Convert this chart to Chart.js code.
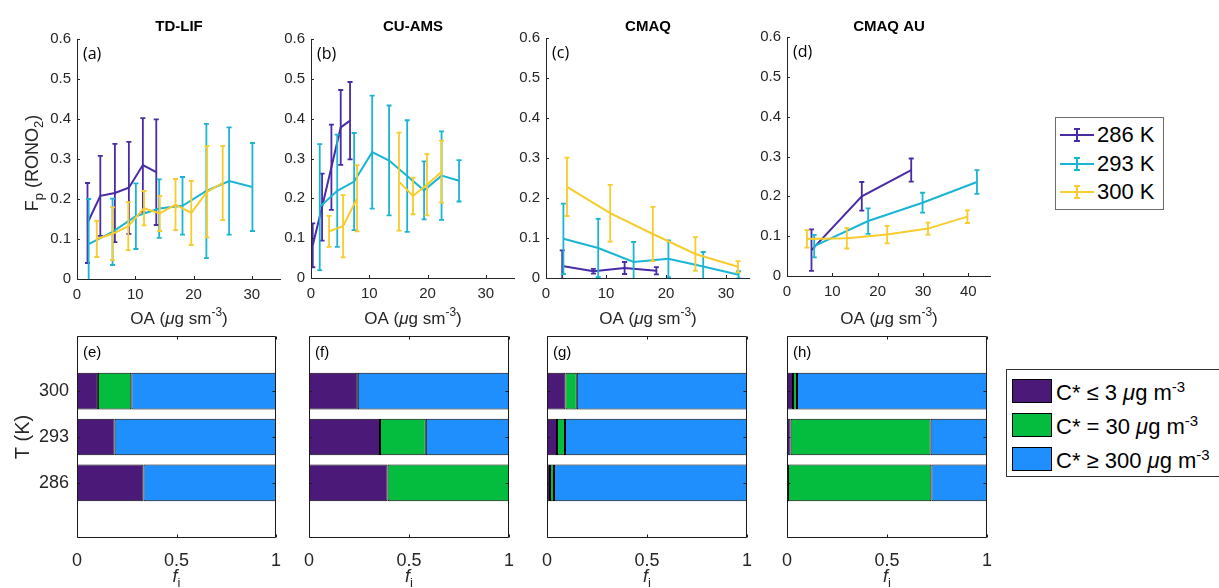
<!DOCTYPE html>
<html>
<head>
<meta charset="utf-8">
<script src="https://cdn.jsdelivr.net/npm/chart.js@4.4.0/dist/chart.umd.min.js"></script>
<style>
  body { margin: 0; background: #fff; width: 1219px; height: 588px; overflow: hidden; position: relative;
         font-family: "Liberation Sans", Arial, sans-serif; color: #000; }
  canvas { position: absolute; }
  .box { position: absolute; background: #fff; }
  .row { position: absolute; white-space: nowrap; line-height: 1; }
  .row sup { font-size: 0.68em; vertical-align: 0.55em; }
  .sw { position: absolute; box-sizing: border-box; border: 1px solid #000; }
</style>
</head>
<body>
<canvas id="top0"></canvas><canvas id="top1"></canvas><canvas id="top2"></canvas><canvas id="top3"></canvas>
<canvas id="bot0"></canvas><canvas id="bot1"></canvas><canvas id="bot2"></canvas><canvas id="bot3"></canvas>
<div id="legTemp" class="box"></div>
<div id="legClass" class="box"></div>
<script>
// ---- data ----
const panelTitles = ['TD-LIF', 'CU-AMS', 'CMAQ', 'CMAQ AU'];
const topLetters = ['(a)', '(b)', '(c)', '(d)'];
const botLetters = ['(e)', '(f)', '(g)', '(h)'];
const tempLabels = ['286 K', '293 K', '300 K'];
const fpTicks = [0, 0.1, 0.2, 0.3, 0.4, 0.5, 0.6];
const oaTicks = [[0, 10, 20, 30], [0, 10, 20, 30], [0, 10, 20, 30], [0, 10, 20, 30, 40]];
const oaMax = [35, 35, 34, 45];

// [OA, Fp, error half-width]; null Fp = gap in line
const tdlif286 = [[1.8, 0.14, 0.10], [4.0, 0.208, 0.10], [6.5, 0.215, 0.123], [8.9, 0.228, 0.115], [11.3, 0.285, 0.117], [13.6, 0.267, 0.132]];
const tdlif293 = [[2.0, 0.087, 0.113], [6.1, 0.118, 0.083], [10.1, 0.157, 0.082], [14.1, 0.176, 0.073], [18.1, 0.183, 0.072], [22.2, 0.22, 0.168], [26.1, 0.245, 0.134], [30.1, 0.23, 0.11]];
const tdlif300 = [[3.4, 0.10, 0.045], [6.1, 0.113, 0.066], [8.8, 0.132, 0.06], [11.5, 0.177, 0.043], [14.2, 0.164, 0.044], [16.9, 0.186, 0.064], [19.6, 0.165, 0.08], [22.3, 0.218, 0.114], [25.0, 0.24, 0.093]];
const cuams286 = [[0.3, 0.082, 0.055], [1.9, 0.178, 0.084], [3.5, 0.278, 0.107], [5.1, 0.378, 0.094], [6.7, 0.395, 0.097]];
const cuams293 = [[1.5, 0.178, 0.158], [4.5, 0.219, 0.141], [7.4, 0.242, 0.122], [10.5, 0.316, 0.142], [13.4, 0.295, 0.138], [16.5, 0.256, 0.14], [19.4, 0.22, 0.073], [22.4, 0.257, 0.111], [25.4, 0.244, 0.052]];
const cuams300 = [[3.1, 0.117, 0.039], [5.5, 0.13, 0.078], [7.9, 0.20, 0.083], [11.5, null, 0], [15.1, 0.242, 0.123], [17.5, 0.206, 0.046], [19.9, 0.234, 0.077], [22.4, 0.267, 0.078]];
const cmaq286 = [[2.7, 0.03, 0.039], [7.9, 0.017, 0.006], [13.1, 0.025, 0.015], [18.4, 0.018, 0.009]];
const cmaq293 = [[2.9, 0.098, 0.088], [8.7, 0.075, 0.073], [14.6, 0.04, 0.05], [20.4, 0.048, 0.046], [26.2, 0.029, 0.036], [32.1, 0.008, 0.009]];
const cmaq300 = [[3.5, 0.228, 0.073], [10.7, 0.162, 0.071], [17.8, 0.11, 0.068], [24.9, 0.06, 0.042], [32.0, 0.028, 0.014]];
const cmaqau286 = [[5.4, 0.065, 0.052], [16.5, 0.2, 0.036], [27.4, 0.266, 0.029]];
const cmaqau293 = [[6.0, 0.075, 0.028], [17.9, 0.138, 0.032], [29.9, 0.184, 0.025], [41.9, 0.236, 0.03]];
const cmaqau300 = [[4.4, 0.093, 0.022], [13.2, 0.095, 0.026], [22.1, 0.104, 0.022], [31.1, 0.119, 0.015], [39.8, 0.149, 0.016]];
const topSeries = [
  [tdlif286, tdlif293, tdlif300],
  [cuams286, cuams293, cuams300],
  [cmaq286, cmaq293, cmaq300],
  [cmaqau286, cmaqau293, cmaqau300]
];

// volatility class fractions, ordered [286, 293, 300]
const tempCats = ['286', '293', '300'];
const fracTicks = [0, 0.5, 1];
const tdlifLow = [0.334, 0.189, 0.105], tdlifMid = [0, 0, 0.168], tdlifHigh = [0.666, 0.811, 0.727];
const cuamsLow = [0.393, 0.355, 0.244], cuamsMid = [0.607, 0.229, 0], cuamsHigh = [0, 0.416, 0.756];
const cmaqLow = [0.015, 0.05, 0.092], cmaqMid = [0.02, 0.04, 0.057], cmaqHigh = [0.965, 0.91, 0.851];
const cmaqauLow = [0.005, 0.018, 0.03], cmaqauMid = [0.717, 0.70, 0.02], cmaqauHigh = [0.278, 0.282, 0.95];
const botSeries = [
  [tdlifLow, tdlifMid, tdlifHigh],
  [cuamsLow, cuamsMid, cuamsHigh],
  [cmaqLow, cmaqMid, cmaqHigh],
  [cmaqauLow, cmaqauMid, cmaqauHigh]
];
const classLabels = [['C* ≤ 3', '-3'], ['C* = 30', '-3'], ['C* ≥ 300', '-3']];

// ---- style / layout ----
const tempColors = ['#4a2ba6', '#1bb5d4', '#f7cc2c'];
const classColors = ['#4b1a79', '#04bd3e', '#1f8ffd'];
const ink = '#262626';
const FAM = '"Liberation Sans", Arial, sans-serif';
const PAD_R = 22;
const topBoxes = [
  { left: 77, right: 281, top: 39, bottom: 279 },
  { left: 311, right: 515, top: 39, bottom: 278 },
  { left: 546, right: 750, top: 38, bottom: 278 },
  { left: 787, right: 991, top: 37, bottom: 276 }
];
const botBoxes = [
  { left: 77, right: 276 }, { left: 309, right: 509 }, { left: 547, right: 747 }, { left: 787, right: 987 }
];
const BOT_TOP = 336, BOT_BOTTOM = 538, BOT_CANVAS_TOP = 300;

// text with sub/superscripts: parts = [[text, kind]], kind '', 'i', 'b', 'sub', 'sup'
function richText(ctx, parts, x, y, size, align) {
  const fontFor = k => (k === 'i' ? 'italic ' : k === 'b' ? 'bold ' : '') +
    (k === 'sub' || k === 'sup' ? Math.round(size * 0.7) : size) + 'px ' + FAM;
  let w = 0;
  parts.forEach(([t, k]) => { ctx.font = fontFor(k); w += ctx.measureText(t).width; });
  let cx = align === 'center' ? x - w / 2 : x;
  ctx.textAlign = 'left';
  ctx.textBaseline = 'alphabetic';
  parts.forEach(([t, k]) => {
    ctx.font = fontFor(k);
    const dy = k === 'sub' ? size * 0.3 : k === 'sup' ? -size * 0.45 : 0;
    ctx.fillText(t, cx, y + dy);
    cx += ctx.measureText(t).width;
  });
}

// vertical error bars drawn right after each line
const errorBars = {
  id: 'errorBars',
  afterDatasetDraw(chart, args) {
    const ds = chart.data.datasets[args.index];
    if (!ds.err) return;
    const { ctx, chartArea: a } = chart;
    const x = chart.scales.x, y = chart.scales.y;
    ctx.save();
    ctx.beginPath();
    ctx.rect(a.left, a.top - 3, a.right - a.left + 3, a.bottom - a.top + 3);
    ctx.clip();
    ctx.strokeStyle = ds.borderColor;
    ctx.lineWidth = 1.8;
    ds.data.forEach((p, i) => {
      if (p.y == null) return;
      const px = x.getPixelForValue(p.x);
      const lo = y.getPixelForValue(p.y - ds.err[i]);
      const hi = y.getPixelForValue(p.y + ds.err[i]);
      ctx.beginPath();
      ctx.moveTo(px, lo); ctx.lineTo(px, hi);
      ctx.moveTo(px - 2.5, lo); ctx.lineTo(px + 2.5, lo);
      ctx.moveTo(px - 2.5, hi); ctx.lineTo(px + 2.5, hi);
      ctx.stroke();
    });
    ctx.restore();
  }
};

function topChart(i) {
  const g = topBoxes[i];
  const cv = document.getElementById('top' + i);
  cv.width = 77 + (g.right - g.left) + PAD_R;
  cv.height = 330;
  cv.style.left = (g.left - 77) + 'px';
  cv.style.top = '0px';
  const deco = {
    id: 'decoTop',
    afterDraw(chart) {
      const { ctx, chartArea: a } = chart;
      const x = chart.scales.x, y = chart.scales.y;
      ctx.save();
      ctx.strokeStyle = ink;
      ctx.lineWidth = 1;
      ctx.beginPath();
      ctx.moveTo(a.left + 0.5, a.top); ctx.lineTo(a.left + 0.5, a.bottom + 0.5); ctx.lineTo(a.right, a.bottom + 0.5);
      fpTicks.forEach(v => { const p = Math.round(y.getPixelForValue(v)) + 0.5; ctx.moveTo(a.left, p); ctx.lineTo(a.left + 3, p); });
      oaTicks[i].forEach(v => { const p = Math.round(x.getPixelForValue(v)) + 0.5; ctx.moveTo(p, a.bottom); ctx.lineTo(p, a.bottom - 3); });
      ctx.stroke();
      ctx.fillStyle = '#000';
      richText(ctx, [[panelTitles[i], 'b']], (a.left + a.right) / 2, 31, 15, 'center');
      ctx.font = '16px "Open Sans", sans-serif';
      ctx.textAlign = 'left'; ctx.textBaseline = 'alphabetic';
      ctx.fillText(topLetters[i], a.left + 6, a.top + 20);
      ctx.fillStyle = ink;
      richText(ctx, [['OA (', ''], ['μ', 'i'], ['g sm', ''], ['-3', 'sup'], [')', '']], (a.left + a.right) / 2, 324, 17, 'center');
      if (i === 0) {
        ctx.translate(38, 163);
        ctx.rotate(-Math.PI / 2);
        richText(ctx, [['F', ''], ['p', 'sub'], [' (RONO', ''], ['2', 'sub'], [')', '']], 0, 0, 18, 'center');
      }
      ctx.restore();
    }
  };
  new Chart(cv, {
    type: 'line',
    data: {
      datasets: topSeries[i].map((pts, k) => ({
        label: tempLabels[k],
        data: pts.map(p => ({ x: p[0], y: p[1] })),
        err: pts.map(p => p[2]),
        borderColor: tempColors[k],
        borderWidth: 2,
        pointRadius: 0,
        tension: 0,
        spanGaps: false,
        order: 3 - k
      }))
    },
    options: {
      responsive: false,
      animation: false,
      events: [],
      layout: { padding: { top: g.top, right: PAD_R, left: 0, bottom: 0 } },
      plugins: { legend: { display: false }, tooltip: { enabled: false } },
      scales: {
        x: {
          type: 'linear', min: 0, max: oaMax[i],
          grid: { display: false, drawTicks: false }, border: { display: false },
          afterBuildTicks: s => { s.ticks = oaTicks[i].map(v => ({ value: v })); },
          afterFit: s => { s.height = 330 - g.bottom; },
          ticks: { font: { family: FAM, size: 15 }, color: ink, padding: 7, maxRotation: 0, autoSkip: false, callback: v => String(v) }
        },
        y: {
          type: 'linear', min: 0, max: 0.6,
          grid: { display: false, drawTicks: false }, border: { display: false },
          afterBuildTicks: s => { s.ticks = fpTicks.map(v => ({ value: v })); },
          afterFit: s => { s.width = 77; },
          ticks: { font: { family: FAM, size: 15 }, color: ink, padding: 6, autoSkip: false, callback: v => String(v) }
        }
      }
    },
    plugins: [errorBars, deco]
  });
}

function botChart(i) {
  const g = botBoxes[i];
  const cv = document.getElementById('bot' + i);
  const H = 588 - BOT_CANVAS_TOP;
  cv.width = 77 + (g.right - g.left) + PAD_R;
  cv.height = H;
  cv.style.left = (g.left - 77) + 'px';
  cv.style.top = BOT_CANVAS_TOP + 'px';
  const deco = {
    id: 'decoBot',
    afterDraw(chart) {
      const { ctx, chartArea: a } = chart;
      const x = chart.scales.x, y = chart.scales.y;
      ctx.save();
      ctx.strokeStyle = '#1a1a1a';
      ctx.lineWidth = 1;
      ctx.beginPath();
      const l = Math.round(a.left) + 0.5, r = Math.round(a.right) - 0.5;
      const t = Math.round(a.top) + 0.5, b = Math.round(a.bottom) - 0.5;
      ctx.moveTo(l, t); ctx.lineTo(r, t); ctx.lineTo(r, b); ctx.lineTo(l, b); ctx.closePath();
      tempCats.forEach((c, j) => {
        const p = Math.round(y.getPixelForValue(j + 1)) + 0.5;
        ctx.moveTo(l, p); ctx.lineTo(l + 3, p);
        ctx.moveTo(r, p); ctx.lineTo(r - 3, p);
      });
      fracTicks.forEach(v => {
        const p = Math.round(x.getPixelForValue(v)) + 0.5;
        ctx.moveTo(p, b); ctx.lineTo(p, b - 3);
        ctx.moveTo(p, t); ctx.lineTo(p, t + 3);
      });
      ctx.stroke();
      ctx.fillStyle = '#000';
      richText(ctx, [[botLetters[i], '']], a.left + 6, a.top + 21, 15, 'left');
      ctx.fillStyle = ink;
      richText(ctx, [['f', 'i'], ['i', 'sub']], (a.left + a.right) / 2, 582 - BOT_CANVAS_TOP, 18, 'center');
      if (i === 0) {
        ctx.translate(29, 437 - BOT_CANVAS_TOP);
        ctx.rotate(-Math.PI / 2);
        richText(ctx, [['T (K)', '']], 0, 0, 20, 'center');
      }
      ctx.restore();
    }
  };
  new Chart(cv, {
    type: 'bar',
    data: {
      datasets: botSeries[i].map((vals, k) => ({
        label: classLabels[k][0],
        data: vals.map((v, j) => ({ x: v, y: j + 1 })),
        backgroundColor: classColors[k],
        borderColor: '#000',
        borderWidth: 1,
        borderSkipped: false,
        barPercentage: 0.8,
        categoryPercentage: 1
      }))
    },
    options: {
      indexAxis: 'y',
      responsive: false,
      animation: false,
      events: [],
      layout: { padding: { top: BOT_TOP - BOT_CANVAS_TOP, right: PAD_R, left: 0, bottom: 0 } },
      plugins: { legend: { display: false }, tooltip: { enabled: false } },
      scales: {
        x: {
          type: 'linear', min: 0, max: 1, stacked: true, offset: false,
          grid: { display: false, drawTicks: false }, border: { display: false },
          afterBuildTicks: s => { s.ticks = fracTicks.map(v => ({ value: v })); },
          afterFit: s => { s.height = 588 - BOT_BOTTOM; },
          ticks: { font: { family: FAM, size: 18 }, color: ink, padding: 12, maxRotation: 0, autoSkip: false, callback: v => String(v) }
        },
        y: {
          type: 'linear', min: -0.2, max: 4.2, stacked: true, offset: false,
          grid: { display: false, drawTicks: false }, border: { display: false },
          afterBuildTicks: s => { s.ticks = tempCats.map((c, j) => ({ value: j + 1 })); },
          afterFit: s => { s.width = 77; },
          ticks: { font: { family: FAM, size: 18 }, color: ink, padding: 8, autoSkip: false,
                   callback: v => (i === 0 ? tempCats[v - 1] : '') }
        }
      }
    },
    plugins: [deco]
  });
}

for (let i = 0; i < 4; i++) { topChart(i); botChart(i); }

// ---- legends ----
const legTemp = document.getElementById('legTemp');
Object.assign(legTemp.style, { left: '1055px', top: '117px', width: '107px', height: '91px', border: '1px solid #6b6b6b' });
tempLabels.forEach((lbl, k) => {
  const cy = 17 + k * 28.5;
  const c = tempColors[k];
  const sym = document.createElementNS('http://www.w3.org/2000/svg', 'svg');
  sym.setAttribute('width', '34'); sym.setAttribute('height', '16');
  sym.style.position = 'absolute'; sym.style.left = '4px'; sym.style.top = (cy - 8) + 'px';
  sym.innerHTML = `<g stroke="${c}" stroke-width="2" fill="none">
    <line x1="0" y1="8" x2="34" y2="8"/><line x1="17" y1="2" x2="17" y2="14"/>
    <line x1="14" y1="2" x2="20" y2="2"/><line x1="14" y1="14" x2="20" y2="14"/></g>`;
  legTemp.appendChild(sym);
  const t = document.createElement('div');
  t.className = 'row';
  t.style.left = '41px'; t.style.top = (cy - 11) + 'px'; t.style.fontSize = '22px';
  t.textContent = lbl;
  legTemp.appendChild(t);
});

const legClass = document.getElementById('legClass');
Object.assign(legClass.style, { left: '1006px', top: '369px', width: '240px', height: '106px', border: '1px solid #333' });
classLabels.forEach((lbl, k) => {
  const top = 9 + k * 34;
  const sw = document.createElement('div');
  sw.className = 'sw';
  Object.assign(sw.style, { left: '5px', top: top + 'px', width: '40px', height: '24px', background: classColors[k] });
  legClass.appendChild(sw);
  const t = document.createElement('div');
  t.className = 'row';
  t.style.left = '49px'; t.style.top = (top + 1) + 'px'; t.style.fontSize = '22px';
  t.innerHTML = lbl[0] + ' <i>μ</i>g m<sup>' + lbl[1] + '</sup>';
  legClass.appendChild(t);
});
</script>
</body>
</html>
